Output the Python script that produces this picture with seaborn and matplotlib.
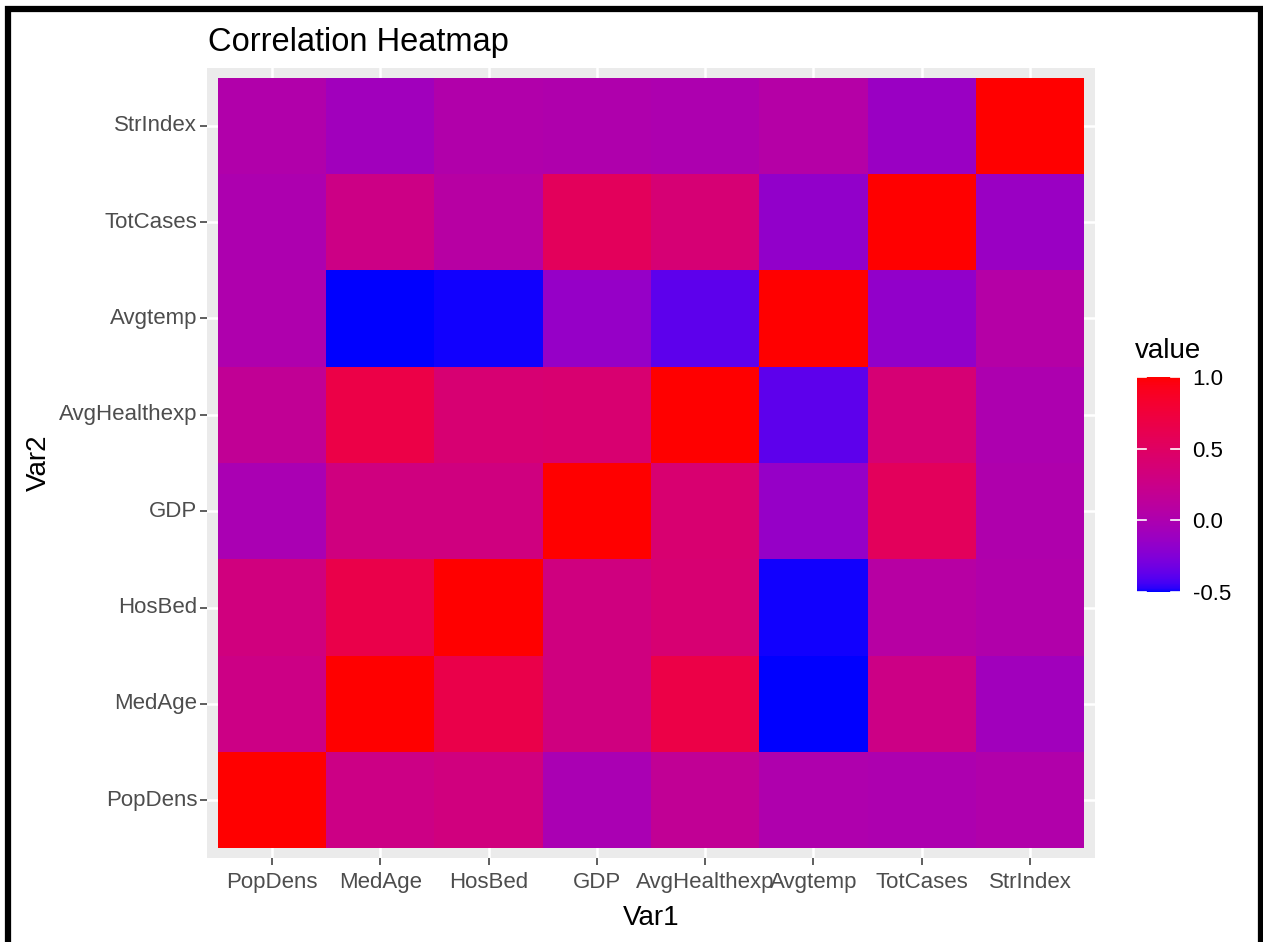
import numpy as np
import pandas as pd
import matplotlib
matplotlib.use("Agg")
import matplotlib.pyplot as plt
import seaborn as sns
from matplotlib.colors import ListedColormap
from matplotlib.lines import Line2D
import matplotlib.transforms as mtransforms

# ---------------- data ----------------
variables = ["PopDens", "MedAge", "HosBed", "GDP", "AvgHealthexp", "Avgtemp", "TotCases", "StrIndex"]
popdens      = [1.00, 0.27, 0.32, -0.02, 0.17, 0.01, 0.00, 0.03]
medage       = [0.27, 1.00, 0.66, 0.31, 0.68, -0.50, 0.27, -0.08]
hosbed       = [0.32, 0.66, 1.00, 0.31, 0.40, -0.49, 0.08, 0.03]
gdp          = [-0.02, 0.31, 0.31, 1.00, 0.41, -0.15, 0.55, 0.02]
avghealthexp = [0.17, 0.68, 0.40, 0.41, 1.00, -0.38, 0.38, 0.00]
avgtemp      = [0.01, -0.50, -0.49, -0.15, -0.38, 1.00, -0.17, 0.06]
totcases     = [0.00, 0.27, 0.08, 0.55, 0.38, -0.17, 1.00, -0.13]
strindex     = [0.03, -0.08, 0.03, 0.02, 0.00, 0.06, -0.13, 1.00]
cbar_ticks = [-0.5, 0.0, 0.5, 1.0]
cbar_labels = ["-0.5", "0.0", "0.5", "1.0"]

corr = pd.DataFrame([popdens, medage, hosbed, gdp, avghealthexp, avgtemp, totcases, strindex],
                    index=variables, columns=variables)

# ---------------- colormap: blue -> red interpolated in CIE Lab ----------------
WHITE = np.array([0.95047, 1.0, 1.08883])
M = np.array([[0.4124, 0.3576, 0.1805], [0.2126, 0.7152, 0.0722], [0.0193, 0.1192, 0.9505]])
Minv = np.linalg.inv(M)
d = 6 / 29


def srgb_to_lab(rgb):
    c = np.asarray(rgb, float)
    lin = np.where(c <= 0.04045, c / 12.92, ((c + 0.055) / 1.055) ** 2.4)
    xyz = M @ lin / WHITE
    f = np.where(xyz > d ** 3, np.cbrt(xyz), xyz / (3 * d * d) + 4 / 29)
    return np.array([116 * f[1] - 16, 500 * (f[0] - f[1]), 200 * (f[1] - f[2])])


def lab_to_srgb(lab):
    L, a, b = lab
    fy = (L + 16) / 116
    fx = fy + a / 500
    fz = fy - b / 200
    f = np.array([fx, fy, fz])
    xyz = np.where(f > d, f ** 3, 3 * d * d * (f - 4 / 29)) * WHITE
    lin = np.clip(Minv @ xyz, 0, 1)
    return np.where(lin <= 0.0031308, 12.92 * lin, 1.055 * lin ** (1 / 2.4) - 0.055).clip(0, 1)


lab_lo = srgb_to_lab([0, 0, 1])
lab_hi = srgb_to_lab([1, 0, 0])
cols = [lab_to_srgb(lab_lo + (lab_hi - lab_lo) * t) for t in np.linspace(0, 1, 256)]
cmap = ListedColormap(cols)

# ---------------- figure ----------------
W, H = 1263, 942
plt.rcParams["font.family"] = ["Liberation Sans", "DejaVu Sans"]
fig = plt.figure(figsize=(W / 100, H / 100), dpi=100, facecolor="white")

ax = fig.add_axes([207 / W, 1 - 858 / H, 888 / W, 790 / H])
cax = fig.add_axes([1137 / W, 1 - 592 / H, 43 / W, 215 / H])

plot_df = corr.iloc[::-1]
sns.heatmap(plot_df, ax=ax, cmap=cmap, vmin=-0.5, vmax=1.0, cbar_ax=cax, linewidths=0)

ax.set_facecolor("#EBEBEB")
ax.set_xlim(-0.1, 8.1)
ax.set_ylim(8.1, -0.1)
ax.set_xticks(np.arange(8) + 0.5)
ax.set_xticklabels(variables, rotation=0)
ax.set_yticks(np.arange(8) + 0.5)
ax.set_yticklabels(list(plot_df.index), rotation=0)
ax.grid(True, color="white", linewidth=1.8)
ax.set_axisbelow(True)
for s in ax.spines.values():
    s.set_visible(False)
ax.tick_params(axis="both", colors="#333333", length=5, width=1.1, labelsize=16,
               labelcolor="#4D4D4D")
ax.tick_params(axis="x", pad=5)
ax.tick_params(axis="y", pad=2)
ax.set_xlabel("")
ax.set_ylabel("")

# colorbar
cbar = ax.collections[0].colorbar
cbar.outline.set_visible(False)
cbar.set_ticks(cbar_ticks)
cbar.set_ticklabels(cbar_labels)
cax.tick_params(length=0, labelsize=16, labelcolor="black", pad=9)
trans = mtransforms.blended_transform_factory(cax.transAxes, cax.transData)
for v in cbar_ticks:
    cax.plot([0, 0.2], [v, v], transform=trans, color="white", lw=1.2, clip_on=True)
    cax.plot([0.8, 1.0], [v, v], transform=trans, color="white", lw=1.2, clip_on=True)

# texts
fig.text(208 / W, 1 - 51 / H, "Correlation Heatmap", fontsize=23.5, ha="left", va="baseline")
fig.text(651 / W, 1 - 925 / H, "Var1", fontsize=20, ha="center", va="baseline")
fig.text(38.5 / W, 1 - 463 / H, "Var2", fontsize=20, ha="center", va="center", rotation=90)
fig.text(1135 / W, 1 - 358 / H, "value", fontsize=20, ha="left", va="baseline")

# black frame (top, left, right)
xs = np.array([8, 8, 1261, 1261]) / W
ys = 1 - np.array([960, 9, 9, 960]) / H
fig.add_artist(Line2D(xs, ys, transform=fig.transFigure, color="black", lw=4.5,
                      solid_joinstyle="miter"))

fig.savefig("out.png", dpi=100, facecolor="white")
